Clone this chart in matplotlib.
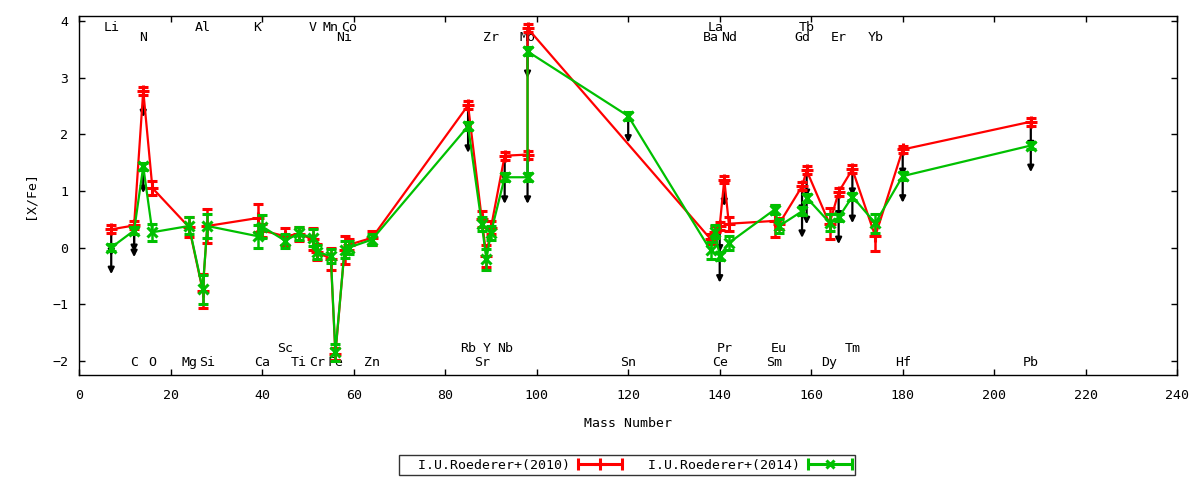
import numpy as np
import matplotlib
matplotlib.use("Agg")
import matplotlib.pyplot as plt
from matplotlib.lines import Line2D
from matplotlib.legend_handler import HandlerBase

plt.rcParams['font.family'] = ['DejaVu Sans Mono']
plt.rcParams['font.size'] = 9.5

# ---------------- data ----------------
# I.U.Roederer+(2010)
mass_2010 = [7, 12, 14, 16, 24, 27, 28, 39, 40, 45, 48, 51, 52, 55, 56, 58, 59, 64,
             85, 88, 89, 90, 93, 98, 98, 138, 139, 140, 141, 142, 152, 153, 158, 159,
             164, 166, 169, 174, 180, 208]
xfe_2010 = [0.32, 0.39, 2.77, 1.05, 0.36, -0.76, 0.38, 0.52, 0.30, 0.20, 0.24, 0.15, -0.08, -0.20,
            -1.88, -0.04, 0.05, 0.17, 2.51, 0.50, -0.15, 0.35, 1.62, 1.64, 3.87, 0.15, 0.28, 0.38,
            1.20, 0.42, 0.47, 0.42, 1.08, 1.36, 0.42, 0.98, 1.38, 0.20, 1.73, 2.22]
err_2010 = [0.07, 0.07, 0.07, 0.12, 0.18, 0.30, 0.30, 0.25, 0.12, 0.15, 0.12, 0.20, 0.14, 0.20,
            0.10, 0.25, 0.10, 0.12, 0.07, 0.14, 0.20, 0.12, 0.07, 0.07, 0.07, 0.08, 0.10, 0.07,
            0.07, 0.12, 0.28, 0.10, 0.07, 0.07, 0.27, 0.07, 0.07, 0.27, 0.07, 0.07]
ul_2010 = [1, 1, 1, 0, 0, 0, 0, 0, 0, 0, 0, 0, 0, 0, 0, 0, 0, 0, 1, 0, 0, 0, 1, 1, 1, 0, 0, 1,
           1, 0, 0, 0, 1, 1, 0, 1, 1, 0, 1, 1]

# I.U.Roederer+(2014)
mass_2014 = [7, 12, 14, 16, 24, 27, 28, 39, 40, 45, 48, 51, 52, 55, 56, 58, 59, 64,
             85, 88, 89, 90, 93, 98, 98, 120, 138, 139, 140, 142, 152, 153, 158, 159,
             164, 166, 169, 174, 180, 208]
xfe_2014 = [0.00, 0.30, 1.43, 0.27, 0.38, -0.74, 0.38, 0.20, 0.37, 0.12, 0.25, 0.17, -0.08, -0.15,
            -1.85, -0.04, 0.00, 0.14, 2.14, 0.41, -0.21, 0.26, 1.24, 1.24, 3.46, 2.32, -0.05, 0.28,
            -0.15, 0.08, 0.67, 0.38, 0.64, 0.88, 0.44, 0.53, 0.90, 0.43, 1.26, 1.80]
err_2014 = [0.07, 0.07, 0.07, 0.15, 0.15, 0.25, 0.22, 0.20, 0.20, 0.12, 0.12, 0.15, 0.12, 0.12,
            0.15, 0.15, 0.12, 0.10, 0.07, 0.12, 0.18, 0.12, 0.07, 0.07, 0.07, 0.07, 0.15, 0.12,
            0.07, 0.12, 0.08, 0.12, 0.07, 0.07, 0.15, 0.07, 0.07, 0.17, 0.07, 0.07]
ul_2014 = [1, 1, 1, 0, 0, 0, 0, 0, 0, 0, 0, 0, 0, 0, 0, 0, 0, 0, 1, 0, 0, 0, 1, 1, 1, 1, 0, 0,
           1, 0, 0, 0, 1, 1, 0, 1, 1, 0, 1, 1]

# element labels: name, mass number, row ('t1','t2' top, 'b1','b2' bottom)
label_names = ['Li', 'N', 'Al', 'K', 'V', 'Mn', 'Co', 'Ni', 'Zr', 'Mo', 'La', 'Ba', 'Nd', 'Tb', 'Gd', 'Er', 'Yb',
               'Sc', 'Rb', 'Y', 'Nb', 'Pr', 'Eu', 'Tm',
               'C', 'O', 'Mg', 'Si', 'Ca', 'Ti', 'Cr', 'Fe', 'Zn', 'Sr', 'Sn', 'Ce', 'Sm', 'Dy', 'Hf', 'Pb']
label_mass = [7, 14, 27, 39, 51, 55, 59, 58, 90, 98, 139, 138, 142, 159, 158, 166, 174,
              45, 85, 89, 93, 141, 153, 169,
              12, 16, 24, 28, 40, 48, 52, 56, 64, 88, 120, 140, 152, 164, 180, 208]
label_row = ['t1', 't2', 't1', 't1', 't1', 't1', 't1', 't2', 't2', 't2', 't1', 't2', 't2', 't1', 't2', 't2', 't2',
             'b1', 'b1', 'b1', 'b1', 'b1', 'b1', 'b1',
             'b2', 'b2', 'b2', 'b2', 'b2', 'b2', 'b2', 'b2', 'b2', 'b2', 'b2', 'b2', 'b2', 'b2', 'b2', 'b2']
row_y = {'t1': 3.89, 't2': 3.70, 'b1': -1.79, 'b2': -2.03}

series_labels = ['I.U.Roederer+(2010)', 'I.U.Roederer+(2014)']

RED = '#ff0000'
GREEN = '#00c000'
ARROW_LEN = 0.47

# ---------------- figure ----------------
fig = plt.figure(figsize=(12, 4.8), dpi=100)
ax = fig.add_axes([0.066, 0.219, 0.915, 0.748])
ax.set_xlim(0, 240)
ax.set_ylim(-2.247, 4.088)

for name, m, r in zip(label_names, label_mass, label_row):
    ax.text(m, row_y[r], name, ha='center', va='center', fontsize=9.5, zorder=0.5)

# upper-limit arrows
for masses, vals, uls in [(mass_2010, xfe_2010, ul_2010), (mass_2014, xfe_2014, ul_2014)]:
    for m, v, u in zip(masses, vals, uls):
        if u:
            ax.annotate('', xy=(m, v - ARROW_LEN), xytext=(m, v),
                        arrowprops=dict(arrowstyle='-|>', color='black', lw=1.6,
                                        mutation_scale=9, shrinkA=0, shrinkB=0),
                        zorder=1)

ax.errorbar(mass_2010, xfe_2010, yerr=err_2010, color=RED, lw=1.6, marker='+', ms=8, mew=2.2,
            elinewidth=1.8, capsize=3.5, capthick=1.8, zorder=2)
ax.errorbar(mass_2014, xfe_2014, yerr=err_2014, color=GREEN, lw=1.6, marker='x', ms=6.5, mew=2.2,
            elinewidth=1.8, capsize=3.5, capthick=1.8, zorder=3)

ax.set_xticks(np.arange(0, 241, 20))
ax.set_yticks(np.arange(-2, 5, 1))
ax.tick_params(direction='in', top=True, right=True, length=4.5, width=1)
ax.tick_params(axis='x', pad=10)
ax.tick_params(axis='y', pad=8)
for s in ax.spines.values():
    s.set_linewidth(1)
ax.set_xlabel('Mass Number', labelpad=11)
ax.set_ylabel('[X/Fe]', labelpad=11)


class CapLineHandler(HandlerBase):
    def create_artists(self, legend, orig_handle, xdescent, ydescent, width, height, fontsize, trans):
        c = orig_handle.get_color()
        y = height / 2.0 - ydescent
        x0, x1 = -xdescent, width - xdescent
        line = Line2D([x0, x1], [y, y], color=c, lw=2.2, solid_capstyle='butt')
        caps = Line2D([x0, x1], [y, y], color=c, ls='none', marker='|', ms=8, mew=2.2)
        mid = Line2D([(x0 + x1) / 2.0], [y], color=c, ls='none', marker=orig_handle.get_marker(),
                     ms=orig_handle.get_markersize(), mew=2.2)
        for a in (line, caps, mid):
            a.set_transform(trans)
        return [line, caps, mid]


h1 = Line2D([], [], color=RED, marker='+', ms=8)
h2 = Line2D([], [], color=GREEN, marker='x', ms=6)
leg = fig.legend([h1, h2], ['  ' + s for s in series_labels],
                 loc='center', bbox_to_anchor=(0.5225, 0.031), ncol=2, markerfirst=False,
                 handler_map={Line2D: CapLineHandler()}, frameon=True, fancybox=False,
                 edgecolor='black', handlelength=3.3, columnspacing=0.8, borderpad=0.25,
                 handletextpad=0.6, fontsize=9.5)
leg.get_frame().set_linewidth(1)

fig.savefig('out.png', dpi=100)
